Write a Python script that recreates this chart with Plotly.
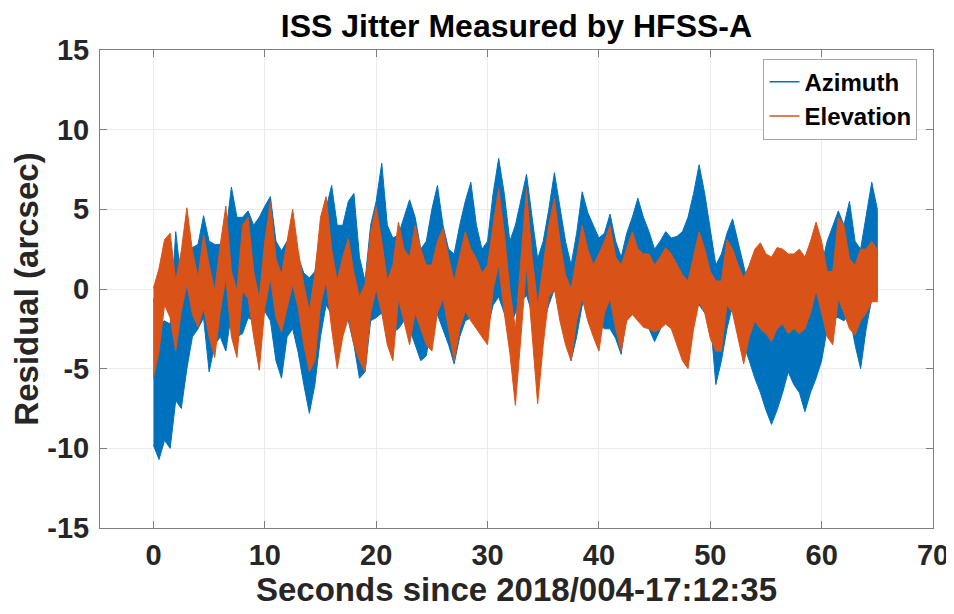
import numpy as np
import plotly.graph_objects as go

# time grid (seconds), envelope values every 0.5 s
t_grid = [i * 0.5 for i in range(131)]

azimuth_top = [
    -0.6, -2.2, -2.0, -2.2, 3.6, 0.5, 1.5, 2.6, 2.8, 4.6,
    3.0, 2.8, 2.8, 3.5, 6.4, 4.5, 4.5, 4.9, 4.0, 4.5,
    5.2, 5.8, 3.0, 2.4, 3.0, 3.0, 2.0, 1.0, 0.7, 1.1,
    3.6, 5.0, 6.5, 4.0, 4.0, 5.5, 6.0, 2.0, 0.5, 4.0,
    5.5, 7.9, 4.0, 3.2, 3.4, 4.5, 5.6, 4.5, 2.5, 3.0,
    5.0, 6.5, 4.0, 2.5, 2.2, 4.0, 5.5, 6.7, 4.0, 2.5,
    3.0, 6.0, 8.2, 6.0, 3.0, 4.0, 5.5, 7.2, 4.5, 1.9,
    3.0, 5.0, 7.3, 5.0, 3.0, 1.5, 3.5, 6.1, 4.8, 4.0,
    3.2, 3.5, 4.7, 3.0, 2.0, 3.5, 4.5, 5.7, 4.5, 3.6,
    2.5, 3.0, 3.6, 3.2, 3.3, 3.6, 4.5, 6.0, 7.8, 6.0,
    3.6, 1.5, 2.2, 3.5, 4.4, 3.0, 1.5, 0.0, -1.0, -1.5,
    -1.8, -1.6, -1.8, -1.5, -1.2, -1.4, -1.4, -1.5, -0.8, 0.3,
    1.5, 3.0, 4.0, 4.9, 4.0, 5.5, 3.0, 2.5, 4.6, 6.7,
    5.0,
]
azimuth_bottom = [
    -9.8, -10.7, -9.5, -10.0, -7.0, -7.5, -5.0, -3.0, -2.5, -1.8,
    -5.2, -3.5, -3.0, -3.9, -1.5, -3.0, -2.8, -1.8, -2.0, -1.5,
    -1.4, -2.0, -4.5, -5.6, -3.0, -2.5, -4.0, -6.0, -7.8, -6.0,
    -3.0, -1.0, -1.6, -1.6, -2.0, -2.0, -3.5, -5.6, -5.2, -2.0,
    -1.8, -1.5, -2.7, -2.7, -2.5, -2.0, -2.5, -3.5, -4.5, -4.2,
    -2.0, -1.6, -2.5, -3.5, -4.7, -3.0, -2.0, -1.8, -2.2, -2.2,
    -2.5, -1.0, -0.5, -1.5, -2.4, -1.5, -0.8, -0.4, -1.5, -2.2,
    -2.2, -1.0, 0.0, -1.0, -3.0, -4.5, -3.0, -1.0, -0.6, -1.0,
    -2.2, -2.5, -2.5, -3.1, -4.1, -1.5, -1.0, -1.5, -1.8, -2.5,
    -3.3, -2.5, -1.8, -1.8, -2.0, -2.0, -1.5, -1.0, -1.0, -1.5,
    -1.8, -6.0, -4.5, -2.5, -1.0, -2.5, -3.5, -4.5, -5.6, -6.5,
    -7.6, -8.5, -7.6, -6.5, -5.2, -6.0, -6.5, -7.7, -6.5, -5.6,
    -4.5, -2.5, -1.8, -1.8, -2.0, -1.6, -3.5, -5.0, -2.5, -0.6,
    -0.5,
]
elevation_top = [
    0.05, 1.3, 3.1, 3.5, 0.5, 2.4, 5.1, 2.4, 0.7, 3.4,
    1.5, -0.1, 2.8, 5.2, 1.1, -0.1, 4.0, 4.5, 1.1, -0.6,
    3.0, 5.5, 1.9, 0.9, 3.0, 5.0, 2.4, 0.3, -1.4, 1.0,
    4.5, 5.8, 2.5, 0.5, 2.0, 3.2, 1.0, -0.5, 0.3, 3.5,
    5.2, 3.0, 0.5, 1.5, 4.2, 2.5, 2.0, 4.0, 2.5, 1.5,
    1.5, 3.0, 3.8, 2.0, 0.5, 2.0, 3.6, 2.5, 1.9, 1.0,
    1.5, 4.0, 6.3, 3.5, 0.0, -2.5, 2.0, 6.3, 2.0, -1.0,
    1.5, 4.0, 5.7, 3.0, 0.9, 0.0, 2.0, 4.0, 2.5, 1.5,
    2.2, 3.0, 4.0, 2.0, 1.5, 2.5, 3.6, 2.5, 2.2, 2.2,
    1.5, 2.0, 2.6, 2.2, 1.5, 0.9, 0.5, 2.0, 3.6, 2.5,
    1.1, 0.5, 0.5, 3.1, 2.5, 1.5, 0.7, 1.5, 2.5, 2.9,
    2.2, 2.0, 2.6, 2.5, 2.2, 2.2, 2.5, 2.0, 3.0, 4.2,
    3.0, 1.1, 1.1, 4.5, 4.0, 1.9, 1.5, 2.5, 2.5, 3.0,
    2.5,
]
elevation_bottom = [
    -5.6, -3.9, -1.0, -1.8, -3.9, -1.4, 0.3, -1.6, -2.4, -1.2,
    -3.0, -4.3, -1.4, 0.7, -3.0, -4.3, -0.1, -0.6, -3.0, -5.1,
    -1.2, 0.7, -1.8, -2.7, -1.2, 0.3, -1.2, -3.5, -5.2, -4.5,
    -1.0, 0.5, -2.5, -5.0, -3.0, -1.8, -3.5, -4.5, -5.2, -1.5,
    0.0, -1.5, -3.5, -4.5, -0.6, -2.0, -3.5, -1.5, -2.5, -3.5,
    -3.9, -1.5, -0.6, -2.5, -4.5, -2.5, -1.4, -2.0, -2.5, -3.0,
    -3.5, 0.0, 1.5, -1.5, -4.0, -7.3, -3.0, 1.5, -3.0, -7.2,
    -3.5, -0.5, 0.0, -2.0, -3.5, -4.5, -2.0, -0.6, -2.0, -3.0,
    -3.9, -1.5, -0.6, -2.5, -3.9, -2.0, -1.6, -2.0, -2.4, -2.5,
    -2.7, -2.5, -2.2, -2.5, -3.5, -4.5, -5.0, -2.5, -0.8, -1.5,
    -3.1, -3.9, -3.9, -1.0, -1.5, -3.0, -4.7, -3.0, -2.0, -2.5,
    -2.8, -3.3, -2.5, -2.2, -2.8, -2.5, -2.8, -2.5, -1.5, -0.1,
    -1.5, -3.0, -3.5, -0.6, -1.5, -2.5, -2.9, -2.0, -1.5, -0.8,
    -0.8,
]

x_ticks = [0, 10, 20, 30, 40, 50, 60, 70]
y_ticks = [-15, -10, -5, 0, 5, 10, 15]
y_tick_text = ["-15", "-10", "-5", "0", "5", "10", "15"]

BLUE = "#0072BD"
ORANGE = "#D95319"
FONT = "Liberation Sans"
AXIS_GRAY = "#7f7f7f"


def band(x, top, bottom, color, name):
    xs = list(x) + list(x)[::-1]
    ys = list(top) + list(bottom)[::-1]
    return go.Scatter(x=xs, y=ys, mode="lines", fill="toself", fillcolor=color,
                      line=dict(color=color, width=1), name=name,
                      showlegend=False, hoverinfo="skip")


fig = go.Figure()
fig.add_trace(band(t_grid, azimuth_top, azimuth_bottom, BLUE, "Azimuth"))
fig.add_trace(band(t_grid, elevation_top, elevation_bottom, ORANGE, "Elevation"))
# legend entries (line samples)
fig.add_trace(go.Scatter(x=[None], y=[None], mode="lines", name="Azimuth",
                         line=dict(color=BLUE, width=1.5)))
fig.add_trace(go.Scatter(x=[None], y=[None], mode="lines", name="Elevation",
                         line=dict(color=ORANGE, width=1.5)))

axis_common = dict(
    showline=True, linecolor=AXIS_GRAY, linewidth=1, mirror="ticks",
    ticks="inside", ticklen=7, tickcolor=AXIS_GRAY,
    showgrid=True, gridcolor="#ebebeb", gridwidth=1, zeroline=False,
    automargin=False, ticklabeloverflow="allow",
    tickfont=dict(family=FONT, size=29, color="#262626", weight="bold"),
)

# the page body has an 8 px margin; the figure is sized so that it ends at the window edge
fig.update_layout(
    width=946, height=606,
    margin=dict(l=92, r=21, t=42, b=86),
    paper_bgcolor="white", plot_bgcolor="white",
    title=dict(text="<b>ISS Jitter Measured by HFSS-A</b>", x=0.5375, xanchor="center",
               y=0.9705, yanchor="middle",
               font=dict(family=FONT, size=32, color="#000000")),
    xaxis=dict(range=[-4.8, 70], tickvals=x_ticks, ticklabelstandoff=1, title=dict(
        text="<b>Seconds since 2018/004-17:12:35</b>", standoff=6,
        font=dict(family=FONT, size=33, color="#262626")), **axis_common),
    yaxis=dict(range=[-15, 15], tickvals=y_ticks, ticktext=y_tick_text,
               ticklabelstandoff=4, title=dict(
        text="<b>Residual (arcsec)</b>", standoff=0,
        font=dict(family=FONT, size=33, color="#262626")), **axis_common),
    legend=dict(x=0.7965, y=0.982, xanchor="left", yanchor="top",
                bgcolor="white", bordercolor="#a6a6a6", borderwidth=1,
                font=dict(family=FONT, size=24, color="#000000", weight="bold"),
                tracegroupgap=0, itemwidth=30),
    showlegend=True,
)

fig.write_html("out.html")
